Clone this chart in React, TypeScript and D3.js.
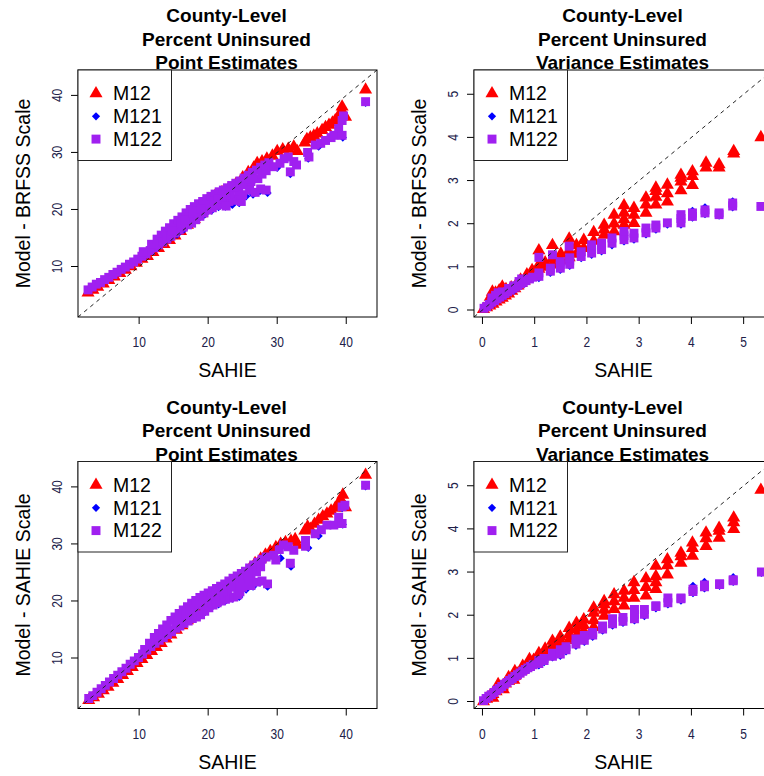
import * as d3 from 'd3';

type Pt = [number, number];

const seriesNames = ['M12', 'M121', 'M122'];
const seriesColors = ['#ff0000', '#0000ff', '#a020f0'];
const pointTitle = ['County-Level', 'Percent Uninsured', 'Point Estimates'];
const varianceTitle = ['County-Level', 'Percent Uninsured', 'Variance Estimates'];
const xLabel = 'SAHIE';
const brfssLabel = 'Model - BRFSS Scale';
const sahieLabel = 'Model - SAHIE Scale';
const pointTicks = [10, 20, 30, 40];
const varianceTicks = [0, 1, 2, 3, 4, 5];
// data range of both axes (R pads it by 4%)
const pointRange = [2.75, 42.85];
const varianceRange = [0.05, 5.35];

// top left: point estimates, BRFSS scale
const brfssPointM12: Pt[] = [
  [2.6,5.4],[3.3,5.9],[4.0,6.4],[4.8,7.0],[5.6,7.6],[6.4,8.2],[7.2,8.8],[8.0,9.4],[8.8,10.0],[9.6,10.6],
  [10.4,11.3],[11.2,11.8],[12.0,12.5],[12.8,13.2],[13.6,13.9],[14.4,14.6],[15.2,15.4],[16.0,16.2],[17.0,17.3],
  [18.0,18.3],[19.0,19.3],[20.0,20.3],[21.0,21.1],[22.0,21.8],[20.0,21.8],[21.0,22.4],[22.0,23.0],[23.0,23.7],
  [24.0,24.4],[25.0,25.6],[25.8,26.5],[26.6,27.3],[27.1,28.1],[27.8,28.4],[28.5,28.9],[29.3,29.4],[30.0,30.2],
  [30.8,30.5],[31.6,30.6],[32.4,31.0],[32.9,30.2],[34.0,31.7],[34.3,32.3],[34.8,32.6],[35.3,32.9],[35.8,33.3],
  [36.5,33.9],[37.0,34.4],[37.5,34.8],[38.0,35.2],[38.4,35.6],[38.9,35.9],[39.2,37.1],[39.4,38.0],[39.6,36.6],
  [39.9,36.2],[42.8,41.0],
];
const brfssPointM121: Pt[] = [
  [3.0,6.1],[5.0,7.6],[7.0,9.1],[9.0,10.6],[11.0,12.1],[13.0,13.7],[14.5,14.9],[15.5,15.6],[16.5,16.5],
  [17.5,17.4],[18.5,18.3],[19.5,19.1],[20.5,19.8],[21.5,20.4],[22.5,20.5],[23.5,20.8],[24.5,21.1],[25.5,22.3],
  [26.5,22.6],[27.5,23.2],[28.6,22.9],[30.0,27.3],[31.9,26.2],[32.5,28.0],[34.5,28.9],[36.0,31.0],[38.5,33.2],
  [39.5,32.6],[39.4,35.4],[42.8,38.7],
];
const brfssPointM122: Pt[] = [
  [2.6,5.9],[3.2,6.4],[3.8,6.9],[4.4,7.2],[5.0,7.7],[5.6,8.1],[6.2,8.6],[6.8,9.0],[7.4,9.5],[8.0,9.9],
  [8.6,10.4],[9.2,10.8],[9.8,11.3],[10.4,11.8],[11.0,12.2],[11.6,12.8],[12.2,13.3],[12.8,13.8],
  [10.6,12.6],[11.8,13.9],[12.6,14.8],[13.2,15.5],[13.8,16.2],[14.4,16.8],
  [13.4,14.3],[14.0,14.8],[14.6,15.3],[15.2,15.9],[15.8,16.4],[16.4,16.9],[17.0,17.3],[17.6,17.6],[18.2,18.2],
  [18.8,18.8],[19.4,19.4],[20.0,19.9],[20.6,20.3],[21.2,20.7],[21.8,20.9],[22.4,21.2],[23.0,21.4],[23.6,21.6],
  [24.2,21.8],
  [15.0,17.5],[15.6,18.1],[16.2,18.7],[16.8,19.4],[17.4,20.0],[18.0,20.5],[18.6,21.0],[19.2,21.4],[19.8,21.9],
  [20.4,22.3],[21.0,22.7],[21.6,23.1],[22.2,23.4],[22.8,23.8],[23.4,24.2],[24.0,24.6],[24.6,25.0],[25.2,25.5],
  [25.8,26.0],[26.4,26.5],[27.0,26.9],[27.6,27.4],[28.2,27.8],[28.8,28.2],
  [16.0,17.6],[17.2,18.7],[18.4,19.7],[19.6,20.7],[20.8,21.5],[22.0,22.2],[23.2,22.8],[24.4,23.3],[25.4,24.3],
  [26.2,24.9],[27.2,25.4],[14.8,16.2],[16.6,18.1],[17.8,19.3],[19.0,20.1],[21.4,21.9],[22.6,22.6],[23.8,23.9],
  [25.0,24.4],[26.0,25.3],[27.8,26.2],[28.4,26.8],
  [22.6,20.6],[24.8,21.4],[25.0,22.6],[26.0,23.4],[26.8,23.0],[27.6,23.6],[28.4,23.4],
  [29.5,27.5],[30.4,28.1],[31.0,28.9],[31.6,29.2],[32.4,28.4],[32.8,27.8],[31.9,26.6],[34.4,30.0],[34.6,29.2],
  [35.5,31.3],[36.3,31.6],[37.0,32.1],[37.8,32.6],[38.2,33.0],[38.9,34.2],[39.4,33.0],[39.4,35.6],[39.6,36.4],
  [42.8,38.9],
];

// bottom left: point estimates, SAHIE scale
const sahiePointM12: Pt[] = [
  [2.7,2.6],[3.4,3.1],[4.1,3.7],[4.8,4.3],[5.5,4.9],[6.2,5.6],[6.9,6.3],[7.6,7.0],[8.3,7.7],[9.0,8.4],
  [9.7,9.1],[10.4,9.8],[11.1,10.5],[11.8,11.2],[12.5,11.9],[13.2,12.6],[13.9,13.4],[14.6,14.1],[15.4,14.9],
  [16.2,15.7],[17.0,16.6],[18.0,17.6],[19.0,18.6],[20.0,19.6],[21.0,20.6],[22.0,21.5],[23.0,22.5],[24.0,23.5],
  [25.0,24.5],[26.0,25.6],[26.8,26.6],[27.6,27.4],[28.3,28.1],[29.0,28.7],[29.8,29.4],[30.5,30.0],[31.2,30.3],
  [32.0,30.5],[32.6,30.8],[32.9,29.8],[34.0,32.3],[34.4,33.0],[34.8,32.6],[35.4,33.5],[36.0,34.2],[36.6,34.8],
  [37.2,35.3],[37.8,35.8],[38.4,36.3],[38.8,36.9],[39.2,37.8],[39.5,38.6],[39.9,36.4],[42.8,42.1],
];
const sahiePointM121: Pt[] = [
  [3.0,3.1],[6.0,6.0],[9.0,9.1],[12.0,12.1],[14.0,13.9],[16.0,15.6],[18.0,17.0],[19.5,18.0],[20.5,18.9],
  [21.5,19.4],[22.5,20.0],[23.5,20.4],[24.5,20.7],[25.5,22.0],[26.5,22.5],[27.5,23.2],[28.6,22.5],[32.0,26.0],
  [30.5,27.5],[34.5,29.3],[36.0,31.4],[38.5,33.5],[39.5,33.4],[39.4,36.3],[42.8,40.1],
];
const sahiePointM122: Pt[] = [
  [2.7,2.9],[3.3,3.4],[3.9,4.0],[4.5,4.6],[5.1,5.2],[5.7,5.8],[6.3,6.4],[6.9,7.0],[7.5,7.6],[8.1,8.2],
  [8.7,8.9],[9.3,9.5],[9.9,10.1],[10.5,10.7],[11.1,11.4],[11.7,12.0],[12.3,12.6],[12.9,13.1],
  [10.8,11.5],[11.5,12.6],[12.2,13.6],[12.8,14.3],[13.4,15.1],[14.0,15.8],[14.6,16.6],[15.2,17.2],[15.8,17.8],
  [16.4,18.4],[17.0,19.0],[17.6,19.6],[18.2,20.1],[18.8,20.6],[19.4,21.0],[20.0,21.4],[20.6,21.8],[21.2,22.2],
  [21.8,22.6],[22.4,23.0],[23.0,23.5],[23.6,24.0],[24.2,24.4],[24.8,24.8],[25.4,25.2],[26.0,25.8],[26.6,26.3],
  [27.2,26.8],[27.8,27.3],[28.4,27.7],
  [13.5,13.6],[14.1,14.1],[14.7,14.6],[15.3,15.2],[15.9,15.6],[16.5,16.1],[17.1,16.5],[17.7,16.9],[18.3,17.2],
  [18.9,17.6],[19.5,18.2],[20.1,18.8],[20.7,19.3],[21.3,19.7],[21.9,20.0],[22.5,20.3],[23.1,20.5],[23.7,20.7],
  [24.3,21.1],
  [15.6,16.4],[16.8,17.5],[18.0,18.6],[19.2,19.5],[20.4,20.4],[21.6,21.2],[22.8,21.9],[24.0,22.6],[25.2,23.5],
  [26.2,24.3],[14.2,14.9],[17.4,18.3],[18.6,19.3],[19.8,20.0],[21.0,20.9],[22.2,21.8],[23.4,22.4],[24.6,23.2],
  [25.8,24.6],[27.0,25.1],[27.6,26.0],
  [24.6,21.6],[25.0,22.4],[26.2,22.7],[27.0,23.3],[27.8,23.5],[28.6,23.0],
  [29.5,28.0],[30.3,29.0],[30.9,29.8],[31.6,29.5],[32.4,28.9],[31.9,26.6],[29.8,27.2],[34.1,30.6],[34.1,29.6],
  [35.5,31.8],[36.4,32.5],[37.2,33.3],[38.2,33.3],[38.9,34.7],[39.4,33.6],[39.4,36.5],[39.8,36.8],[42.8,40.3],
];

// top right: variance estimates, BRFSS scale
const brfssVarM12: Pt[] = [
  [0.02,0.02],[0.08,0.06],[0.14,0.1],[0.2,0.14],[0.26,0.19],[0.32,0.24],[0.38,0.28],[0.44,0.33],[0.5,0.38],
  [0.56,0.44],[0.62,0.5],[0.68,0.56],[0.74,0.62],[0.8,0.68],[0.86,0.74],[0.92,0.8],[0.98,0.86],
  [0.15,0.3],[0.19,0.42],[0.25,0.4],[0.32,0.45],[0.38,0.54],[0.45,0.48],[0.55,0.52],[0.64,0.58],[0.73,0.7],
  [0.85,0.82],[0.95,0.92],
  [1.08,1.38],[1.08,0.95],[1.08,1.05],[1.2,1.0],[1.2,1.1],[1.34,1.5],[1.34,1.05],[1.34,1.18],[1.5,1.15],
  [1.5,1.3],[1.66,1.65],[1.66,1.22],[1.66,1.38],[1.8,1.3],[1.8,1.5],[1.94,1.43],[1.94,1.62],[2.13,1.6],
  [2.13,1.8],[2.33,1.74],[2.33,1.86],[2.33,1.97],[2.52,1.82],[2.52,2.0],[2.52,2.2],[2.71,1.97],[2.71,2.1],
  [2.71,2.25],[2.71,2.42],[2.9,2.01],[2.9,2.2],[2.9,2.36],[3.13,2.25],[3.13,2.44],[3.13,2.6],[3.32,2.44],
  [3.32,2.62],[3.32,2.75],[3.32,2.83],[3.54,2.51],[3.54,2.7],[3.54,2.9],[3.8,2.77],[3.8,2.97],[3.8,3.06],
  [3.8,3.13],[4.02,2.89],[4.02,3.1],[4.02,3.21],[4.28,3.3],[4.28,3.41],[4.53,3.3],[4.53,3.37],[4.81,3.62],
  [4.81,3.68],[5.33,4.0],
];
const brfssVarM121: Pt[] = [
  [0.05,0.03],[0.2,0.15],[0.4,0.3],[0.6,0.45],[0.8,0.6],[0.95,0.72],[1.08,0.74],[1.3,0.86],[1.49,0.93],
  [1.67,1.02],[1.89,1.2],[2.09,1.28],[2.28,1.36],[2.48,1.5],[2.71,1.59],[2.9,1.63],[3.13,1.75],[3.32,1.86],
  [3.54,1.98],[3.8,1.98],[4.02,2.14],[4.02,2.3],[4.26,2.22],[4.26,2.38],[4.53,2.19],[4.79,2.38],[4.79,2.52],
  [5.33,2.4],
];
const brfssVarM122: Pt[] = [
  [0.03,0.04],[0.08,0.08],[0.13,0.13],[0.18,0.18],[0.23,0.22],[0.28,0.26],[0.33,0.3],[0.38,0.34],[0.43,0.38],
  [0.48,0.42],[0.53,0.46],[0.58,0.5],[0.63,0.53],[0.68,0.57],[0.73,0.61],[0.78,0.64],[0.83,0.68],[0.9,0.72],
  [0.96,0.76],[0.18,0.28],[0.25,0.34],[0.3,0.4],[0.38,0.42],[0.5,0.5],[0.6,0.56],[0.7,0.66],[0.75,0.72],
  [1.08,0.78],[1.08,0.86],[1.08,1.22],[1.3,0.9],[1.3,0.97],[1.34,1.28],[1.49,0.97],[1.49,1.05],[1.49,1.12],
  [1.67,1.06],[1.67,1.14],[1.67,1.21],[1.66,1.48],[1.89,1.24],[1.89,1.35],[2.09,1.32],[2.09,1.42],[2.09,1.51],
  [2.28,1.4],[2.28,1.48],[2.28,1.55],[2.48,1.55],[2.48,1.67],[2.71,1.63],[2.71,1.72],[2.71,1.82],[2.9,1.67],
  [2.9,1.78],[3.13,1.79],[3.13,1.9],[3.32,1.9],[3.32,1.97],[3.54,2.02],[3.8,2.02],[3.8,2.12],[3.8,2.21],
  [4.02,2.17],[4.02,2.25],[4.26,2.25],[4.26,2.32],[4.53,2.21],[4.53,2.25],[4.79,2.41],[4.79,2.48],[5.33,2.4],
];

// bottom right: variance estimates, SAHIE scale
const sahieVarM12: Pt[] = [
  [0.02,0.0],[0.08,0.06],[0.14,0.12],[0.2,0.17],[0.26,0.23],[0.32,0.29],[0.38,0.35],[0.44,0.41],[0.5,0.47],
  [0.56,0.53],[0.62,0.59],[0.68,0.65],[0.74,0.71],[0.8,0.77],[0.86,0.83],[0.92,0.9],[0.98,0.96],
  [0.3,0.4],[0.5,0.56],[0.62,0.7],[0.77,0.82],[0.9,0.98],[0.2,0.08],[0.4,0.28],[0.6,0.5],
  [1.08,1.05],[1.08,1.12],[1.2,1.12],[1.2,1.22],[1.34,1.2],[1.34,1.3],[1.34,1.4],[1.49,1.32],[1.49,1.41],
  [1.49,1.5],[1.66,1.42],[1.66,1.56],[1.66,1.7],[1.8,1.52],[1.8,1.67],[1.8,1.82],[1.94,1.62],[1.94,1.76],
  [1.94,1.9],[2.13,1.72],[2.13,1.88],[2.13,2.05],[2.13,2.17],[2.33,1.98],[2.33,2.12],[2.33,2.25],[2.33,2.32],
  [2.52,2.14],[2.52,2.32],[2.52,2.48],[2.71,2.22],[2.71,2.4],[2.71,2.56],[2.9,2.4],[2.9,2.58],[2.9,2.76],
  [3.13,2.45],[3.13,2.65],[3.13,2.85],[3.32,2.6],[3.32,2.76],[3.32,2.9],[3.32,3.14],[3.54,2.94],[3.54,3.15],
  [3.54,3.29],[3.8,3.21],[3.8,3.36],[3.8,3.44],[4.02,3.37],[4.02,3.55],[4.02,3.68],[4.28,3.6],[4.28,3.78],
  [4.28,3.91],[4.53,3.79],[4.53,3.95],[4.53,4.02],[4.81,3.99],[4.81,4.15],[4.81,4.26],[5.33,4.9],
];
const sahieVarM121: Pt[] = [
  [0.05,0.02],[0.3,0.26],[0.6,0.52],[0.9,0.76],[1.08,0.84],[1.18,0.91],[1.34,1.02],[1.49,1.06],[1.6,1.16],
  [1.79,1.29],[1.95,1.38],[2.11,1.5],[2.3,1.64],[2.49,1.76],[2.69,1.82],[2.91,1.88],[3.1,1.98],[3.32,2.16],
  [3.55,2.25],[3.8,2.34],[4.03,2.51],[4.03,2.68],[4.25,2.62],[4.25,2.77],[4.54,2.68],[4.8,2.77],[4.8,2.88],
  [5.34,2.98],
];
const sahieVarM122: Pt[] = [
  [0.02,0.02],[0.07,0.07],[0.12,0.12],[0.17,0.16],[0.22,0.21],[0.27,0.26],[0.32,0.3],[0.37,0.35],[0.42,0.4],
  [0.47,0.44],[0.52,0.49],[0.57,0.53],[0.62,0.58],[0.67,0.62],[0.72,0.66],[0.77,0.7],[0.82,0.74],[0.87,0.78],
  [0.92,0.81],[0.97,0.85],
  [1.08,0.88],[1.08,0.95],[1.18,0.95],[1.18,1.0],[1.34,1.05],[1.34,1.12],[1.49,1.1],[1.49,1.2],[1.6,1.2],
  [1.6,1.27],[1.79,1.33],[1.79,1.45],[1.95,1.42],[1.95,1.53],[2.11,1.54],[2.11,1.6],[2.3,1.68],[2.3,1.75],
  [2.49,1.8],[2.49,1.92],[2.69,1.86],[2.69,1.95],[2.91,1.92],[2.91,2.02],[2.91,2.13],[3.1,2.02],[3.1,2.13],
  [3.32,2.2],[3.32,2.22],[3.55,2.29],[3.55,2.4],[3.8,2.38],[3.8,2.4],[4.03,2.55],[4.03,2.6],[4.25,2.66],
  [4.25,2.7],[4.54,2.71],[4.54,2.73],[4.8,2.8],[4.8,2.82],[5.34,3.0],
];

const PW = 299;
const PH = 247;
const FONT = 'Liberation Sans, Arial, Helvetica, sans-serif';

// pch 17, 18, 15
const symbolPaths = [
  d3.symbol().type(d3.symbolTriangle).size(74)() as string,
  d3.symbol().type(d3.symbolSquare).size(34)() as string,
  d3.symbol().type(d3.symbolSquare).size(80)() as string,
];
const symbolRot = ['', ' rotate(45)', ''];

function Panel(props: {
  id: string; left: number; top: number; title: string[]; yLabel: string;
  range: number[]; ticks: number[]; series: Pt[][];
}) {
  const { id, left, top, title, yLabel, range, ticks, series } = props;
  const pad = (range[1] - range[0]) * 0.04;
  const dom = [range[0] - pad, range[1] + pad];
  const x = d3.scaleLinear().domain(dom).range([left, left + PW]);
  const y = d3.scaleLinear().domain(dom).range([top + PH, top]);
  const bottom = top + PH;

  return (
    <g fontFamily={FONT}>
      <defs>
        <clipPath id={id}>
          <rect x={left} y={top} width={PW} height={PH} />
        </clipPath>
      </defs>
      {title.map((t, i) => (
        <text key={i} x={left + PW / 2 - 1} y={top - 48 + i * 23.5} textAnchor="middle"
          fontWeight="bold" fontSize={19}>{t}</text>
      ))}
      <g clipPath={`url(#${id})`}>
        {series.map((pts, s) =>
          pts.map((p, i) => (
            <path key={s + '-' + i} d={symbolPaths[s]} fill={seriesColors[s]}
              transform={`translate(${x(p[0])},${y(p[1])})${symbolRot[s]}`} />
          ))
        )}
        <line x1={x(dom[0])} y1={y(dom[0])} x2={x(dom[1])} y2={y(dom[1])}
          stroke="#222" strokeWidth={1} strokeDasharray="4,4" />
      </g>
      <rect x={left} y={top} width={PW} height={PH} fill="none" stroke="#000" strokeWidth={1} />

      {ticks.map(t => (
        <g key={'x' + t}>
          <line x1={x(t)} x2={x(t)} y1={bottom} y2={bottom + 7} stroke="#000" />
          <g transform={`translate(${x(t)},${bottom + 30}) scale(0.8,1)`}>
            <text textAnchor="middle" fontSize={15} fill="#202048">{t}</text>
          </g>
        </g>
      ))}
      {ticks.map(t => (
        <g key={'y' + t}>
          <line x1={left - 7} x2={left} y1={y(t)} y2={y(t)} stroke="#000" />
          <g transform={`translate(${left - 16.5},${y(t)}) rotate(-90) scale(0.8,1)`}>
            <text textAnchor="middle" fontSize={15} fill="#202048">{t}</text>
          </g>
        </g>
      ))}

      <text x={left + PW / 2} y={bottom + 60} textAnchor="middle" fontSize={19.5}>{xLabel}</text>
      <text transform={`translate(${left - 48},${top + PH / 2}) rotate(-90)`} textAnchor="middle"
        fontSize={19.5}>{yLabel}</text>

      <rect x={left} y={top} width={93.5} height={90.5} fill="#fff" stroke="#222" strokeWidth={1} />
      {seriesNames.map((n, i) => (
        <g key={n}>
          <path d={symbolPaths[i]} fill={seriesColors[i]}
            transform={`translate(${left + 18},${top + 23.5 + i * 22.8})${symbolRot[i]}`} />
          <text x={left + 35} y={top + 23.5 + i * 22.8 + 6.8} fontSize={19.5}>{n}</text>
        </g>
      ))}
    </g>
  );
}

export default function App() {
  return (
    <svg width={764} height={776} viewBox="0 0 764 776"
      style={{ position: 'absolute', left: 0, top: 0, background: '#fff' }}>
      <rect x={0} y={0} width={764} height={776} fill="#fff" />
      <Panel id="c1" left={78} top={70} title={pointTitle} yLabel={brfssLabel} range={pointRange}
        ticks={pointTicks} series={[brfssPointM12, brfssPointM121, brfssPointM122]} />
      <Panel id="c2" left={474} top={70} title={varianceTitle} yLabel={brfssLabel} range={varianceRange}
        ticks={varianceTicks} series={[brfssVarM12, brfssVarM121, brfssVarM122]} />
      <Panel id="c3" left={78} top={461.5} title={pointTitle} yLabel={sahieLabel} range={pointRange}
        ticks={pointTicks} series={[sahiePointM12, sahiePointM121, sahiePointM122]} />
      <Panel id="c4" left={474} top={461.5} title={varianceTitle} yLabel={sahieLabel} range={varianceRange}
        ticks={varianceTicks} series={[sahieVarM12, sahieVarM121, sahieVarM122]} />
    </svg>
  );
}
